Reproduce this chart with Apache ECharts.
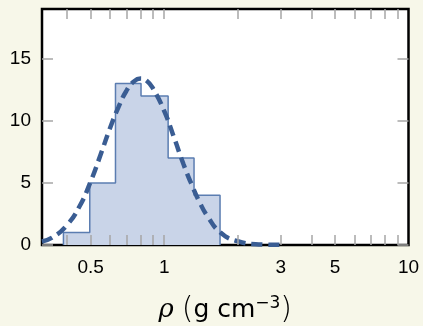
<!DOCTYPE html>
<html>
<head>
<meta charset="utf-8">
<script src="https://cdn.jsdelivr.net/npm/echarts@6/dist/echarts.min.js"></script>
<style>
html,body{margin:0;padding:0;background:#f7f7e9;}
#c{width:423px;height:326px;}
</style>
</head>
<body>
<div id="c"></div>
<script>
// Histogram bin edges (g cm^-3) and counts
var binEdges = [0.387, 0.496, 0.632, 0.804, 1.038, 1.325, 1.693];
var binCounts = [1, 5, 13, 12, 7, 4];
// Dashed fit curve
var curveX = [0.316, 0.35, 0.4, 0.45, 0.5, 0.55, 0.6, 0.65, 0.7, 0.75, 0.8, 0.85, 0.9, 1.0, 1.1, 1.2, 1.3, 1.4, 1.5, 1.7, 2.0, 2.5, 3.0];
var curveY = [0.28, 0.62, 1.6, 3.1, 5.1, 7.3, 9.4, 11.1, 12.4, 13.15, 13.4, 13.2, 12.6, 10.8, 8.6, 6.5, 4.8, 3.4, 2.35, 1.0, 0.3, 0.05, 0.01];
// Axis ticks
var xMinorTicks = [0.4, 0.5, 0.6, 0.7, 0.8, 0.9, 1, 2, 3, 4, 5, 6, 7, 8, 9];
var xTickLabels = [0.5, 1, 3, 5, 10];
var yTicks = [0, 5, 10, 15];

var histData = [[binEdges[0], 0]];
for (var i = 0; i < binCounts.length; i++) histData.push([binEdges[i], binCounts[i]]);
histData.push([binEdges[binEdges.length - 1], binCounts[binCounts.length - 1]]);
histData.push([binEdges[binEdges.length - 1], 0]);

var curveData = curveX.map(function (x, i) { return [x, curveY[i]]; });

var tickColor = '#a6a6a6';
var fontFam = 'Liberation Sans';
var yMax = 19;
// inner tick length expressed in y-axis units (about 10 px)
var bottomTickLen = 0.8;
function fmt(v) { return String(+(+v).toPrecision(3)); }

// bottom inner ticks drawn through the axes' own scales
var bottomTickLines = xMinorTicks.map(function (v) {
  return [{ coord: [v, 0] }, { coord: [v, bottomTickLen] }];
});

function xAxisOpt(pos, showLabel, showTick) {
  return {
    type: 'log', logBase: 10, min: 0.3162, max: 10,
    position: pos, z: 5,
    axisLine: { show: false, onZero: false },
    splitLine: { show: false },
    minorTick: { show: false },
    axisTick: { show: showTick, inside: true, length: 10, lineStyle: { color: tickColor, width: 1.5 }, customValues: xMinorTicks },
    axisLabel: { show: showLabel, customValues: xTickLabels, formatter: fmt, margin: 13, fontSize: 19, fontFamily: fontFam, color: '#000' }
  };
}
function yAxisOpt(pos, showLabel) {
  return {
    type: 'value', min: 0, max: yMax, interval: 5,
    position: pos, z: 5,
    axisLine: { show: false, onZero: false },
    splitLine: { show: false },
    axisTick: { show: true, inside: true, length: 11, lineStyle: { color: tickColor, width: 1.5 }, customValues: yTicks },
    axisLabel: { show: showLabel, margin: 11, fontSize: 19, fontFamily: fontFam, color: '#000', customValues: yTicks }
  };
}

var xBottom = xAxisOpt('bottom', true, false);
xBottom.name = '{rho|ρ} {par|(}g cm{sup|−3}{par|)}';
xBottom.nameLocation = 'middle';
xBottom.nameGap = 50;
xBottom.nameTextStyle = {
  fontSize: 25, fontFamily: 'DejaVu Sans', color: '#000',
  rich: {
    rho: { fontSize: 26, fontFamily: 'DejaVu Serif', fontStyle: 'italic', color: '#000' },
    par: { fontSize: 30, fontFamily: 'DejaVu Sans', fontWeight: 'lighter', color: '#000' },
    sup: { fontSize: 17, fontFamily: 'DejaVu Sans', color: '#000', verticalAlign: 'top' }
  }
};

var chart = echarts.init(document.getElementById('c'), null, { renderer: 'canvas' });
chart.setOption({
  backgroundColor: '#f7f7e9',
  animation: false,
  grid: { left: 42, right: 14.5, top: 9, bottom: 81, containLabel: false, outerBoundsMode: 'none', show: true, backgroundColor: '#ffffff', borderColor: '#000', borderWidth: 2.5 },
  xAxis: [xBottom, xAxisOpt('top', false, true)],
  yAxis: [yAxisOpt('left', true), yAxisOpt('right', false)],
  series: [
    {
      type: 'line', xAxisIndex: 0, yAxisIndex: 0,
      data: histData, step: 'end', symbol: 'none',
      lineStyle: { color: '#5b7db1', width: 1.5 },
      areaStyle: { color: '#c9d4e8', opacity: 1 },
      z: 2
    },
    {
      type: 'line', xAxisIndex: 0, yAxisIndex: 0,
      data: curveData, smooth: true, symbol: 'none',
      lineStyle: { color: '#3a5d93', width: 4.5, type: [11, 6], cap: 'butt' },
      z: 3,
      markLine: {
        silent: true, animation: false,
        symbol: ['none', 'none'],
        label: { show: false },
        lineStyle: { color: tickColor, width: 1.5, type: 'solid' },
        emphasis: { disabled: true },
        data: bottomTickLines
      }
    }
  ]
});
</script>
</body>
</html>
